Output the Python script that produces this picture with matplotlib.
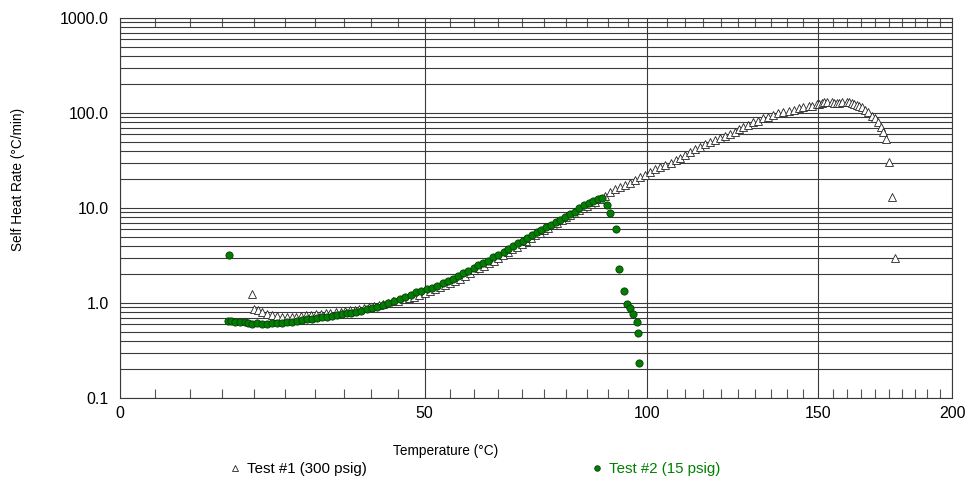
import numpy as np
import matplotlib
matplotlib.use('Agg')
import matplotlib.pyplot as plt
from matplotlib.ticker import FixedLocator, MultipleLocator, LogLocator, FuncFormatter, NullFormatter
from matplotlib.lines import Line2D

plt.rcParams['font.family'] = ['Liberation Sans', 'DejaVu Sans']

# ---------------- data ----------------
x_ticks = [0, 50, 100, 150, 200]
y_ticks = [0.1, 1.0, 10.0, 100.0, 1000.0]

test1_label = "Test #1 (300 psig)"
test2_label = "Test #2 (15 psig)"

test1_temp = [19.6, 19.9, 20.6, 21.3, 22.1, 22.9, 23.7, 24.5, 25.3, 26.1, 26.9, 27.7, 28.5, 29.4,
              30.2, 31.0, 31.9, 32.7, 33.6, 34.5, 35.3, 36.1, 37.0, 37.8, 38.7, 39.6, 40.5, 41.3,
              42.2, 43.1, 44.0, 45.0, 46.0, 47.0, 48.0, 49.0, 50.0, 51.0, 52.0, 53.0, 54.0, 55.0,
              56.0, 57.0, 58.0, 59.0, 60.0, 61.0, 62.0, 63.0, 64.0, 65.0, 66.0, 67.0, 68.0, 69.0,
              70.0, 71.0, 72.0, 73.0, 74.0, 75.0, 76.0, 77.0, 78.0, 79.0, 80.0, 81.0, 82.0, 83.0,
              84.0, 85.0, 86.0, 87.0, 88.2, 89.3, 90.6, 91.8, 93.1, 94.3, 95.5, 96.8, 98.1, 99.4,
              100.7, 102.0, 103.4, 104.7, 106.1, 107.4, 108.7, 110.0, 111.4, 112.8, 114.2, 115.5,
              116.9, 118.3, 119.8, 121.2, 122.7, 124.1, 125.4, 126.6, 128.0, 129.6, 131.1, 132.6,
              134.1, 135.7, 137.3, 138.8, 140.5, 142.1, 143.7, 145.3, 147.0, 148.1, 149.7, 150.5,
              151.3, 152.2, 153.0, 154.7, 155.5, 156.4, 157.3, 158.1, 159.9, 160.8, 161.6, 162.5,
              163.4, 164.3, 165.2, 166.4, 167.6, 168.8, 170.0, 171.2, 172.2, 173.0, 174.0, 175.1,
              176.3, 177.3]
test1_rate = [1.24, 0.86, 0.84, 0.80, 0.77, 0.75, 0.73, 0.72, 0.72, 0.72, 0.72, 0.73, 0.74, 0.75,
              0.76, 0.77, 0.78, 0.79, 0.80, 0.81, 0.82, 0.84, 0.85, 0.86, 0.88, 0.91, 0.93, 0.955,
              0.98, 1.01, 1.04, 1.06, 1.09, 1.13, 1.17, 1.22, 1.28, 1.34, 1.40, 1.46, 1.53, 1.61,
              1.71, 1.81, 1.93, 2.06, 2.20, 2.34, 2.48, 2.63, 2.80, 3.00, 3.22, 3.44, 3.66, 3.93,
              4.20, 4.48, 4.80, 5.14, 5.48, 5.84, 6.22, 6.60, 7.00, 7.40, 7.95, 8.45, 8.95, 9.50,
              10.0, 10.6, 11.1, 11.5, 12.3, 13.4, 14.8, 15.7, 16.5, 17.5, 18.5, 19.7, 21.1, 22.3,
              24.1, 25.6, 26.8, 28.4, 30.0, 32.0, 33.8, 36.1, 38.6, 41.5, 44.2, 46.9,
              49.2, 52.0, 54.2, 57.7, 60.1, 63.6, 67.5, 71.0, 75.5, 79.8, 83.0, 87.9,
              91.4, 95.3, 99.3, 101.5, 104.0, 107.6, 112.0, 116.0, 118.5, 118.0, 123.6, 125.0,
              128.0, 130.0, 131.0, 129.6, 128.0, 127.0, 128.0, 130.0, 132.0, 130.0, 127.0, 124.0,
              120.0, 118.0, 116.5, 107.7, 101.7, 93.7, 88.0, 79.8, 71.8, 63.6, 52.8, 30.7,
              13.2, 2.96]

test2_temp = [16.0, 15.8, 16.4, 17.0, 17.7, 18.5, 19.0, 19.7, 20.4, 21.2, 22.0, 22.9, 23.7, 24.5,
              25.3, 26.1, 27.0, 27.8, 28.6, 29.5, 30.4, 31.2, 32.1, 32.9, 33.8, 34.7, 35.6, 36.4,
              37.3, 38.2, 39.2, 40.1, 41.0, 42.2, 43.1, 44.2, 45.3, 46.3, 47.3, 48.4, 49.3, 50.4,
              51.4, 52.5, 53.6, 54.6, 55.6, 56.6, 57.6, 58.6, 59.8, 60.8, 61.8, 62.9, 63.9, 65.0,
              66.1, 67.1, 68.2, 69.2, 70.3, 71.3, 72.3, 73.4, 74.4, 75.5, 76.5, 77.7, 78.7, 79.9,
              81.0, 82.1, 83.1, 84.3, 85.4, 86.5, 87.6, 88.6, 89.7, 90.6, 91.9, 92.8, 93.9, 94.8,
              95.5, 96.3, 97.4, 97.6, 97.9]
test2_rate = [3.2, 0.65, 0.64, 0.635, 0.63, 0.625, 0.61, 0.605, 0.61, 0.605, 0.60, 0.61, 0.62, 0.62,
              0.625, 0.625, 0.64, 0.67, 0.68, 0.685, 0.70, 0.705, 0.72, 0.73, 0.75, 0.765, 0.78, 0.79,
              0.81, 0.83, 0.86, 0.885, 0.915, 0.96, 1.00, 1.05, 1.10, 1.15, 1.21, 1.29, 1.35, 1.40,
              1.45, 1.52, 1.61, 1.72, 1.80, 1.93, 2.05, 2.19, 2.35, 2.50, 2.62, 2.79, 3.02, 3.23,
              3.45, 3.68, 3.98, 4.25, 4.53, 4.87, 5.20, 5.55, 5.91, 6.31, 6.67, 7.07, 7.48, 8.11,
              8.65, 9.15, 9.93, 10.8, 11.4, 11.9, 12.4, 12.7, 10.8, 8.8, 6.0, 2.26, 1.35, 0.98,
              0.88, 0.77, 0.635, 0.487, 0.232]

# ---------------- figure ----------------
fig = plt.figure(figsize=(9.69, 4.82), dpi=100)
ax = fig.add_axes([120 / 969, 1 - 398 / 482, 832 / 969, 380 / 482])


def fwd(t):
    with np.errstate(divide='ignore', invalid='ignore'):
        return -1000.0 / (np.asarray(t, dtype=float) + 273.15)


def inv(u):
    with np.errstate(divide='ignore', invalid='ignore'):
        return -1000.0 / np.asarray(u, dtype=float) - 273.15


ax.set_xscale('function', functions=(fwd, inv))
ax.set_yscale('log')
ax.set_xlim(0, 200)
ax.set_ylim(0.1, 1000)

grid_col = '#3a3a3a'
ax.yaxis.set_major_locator(FixedLocator(y_ticks))
ax.yaxis.set_minor_locator(LogLocator(base=10, subs=range(2, 10)))
ax.yaxis.set_major_formatter(FuncFormatter(lambda v, p: f'{v:.1f}'))
ax.yaxis.set_minor_formatter(NullFormatter())
ax.xaxis.set_major_locator(FixedLocator(x_ticks))
ax.xaxis.set_minor_locator(MultipleLocator(5))
ax.xaxis.set_major_formatter(FuncFormatter(lambda v, p: f'{v:.0f}'))

ax.grid(True, which='both', axis='y', color=grid_col, lw=0.8)
ax.grid(True, which='major', axis='x', color=grid_col, lw=0.8)
ax.set_axisbelow(True)

ax.tick_params(axis='y', which='both', length=0, pad=8, labelsize=11.5)
ax.tick_params(axis='x', which='major', length=0, pad=6, labelsize=11.5)
ax.tick_params(axis='x', which='minor', direction='in', length=6.5, width=0.8,
               color='#555555', top=True, bottom=True)
for s in ax.spines.values():
    s.set_color(grid_col)
    s.set_linewidth(0.8)

ax.plot(test1_temp, test1_rate, ls='none', marker='^', ms=5.8, mfc='white',
        mec='#222222', mew=0.6, zorder=3)
ax.plot(test2_temp, test2_rate, ls='none', marker='o', ms=5.2, mfc='#008000',
        mec='#0b3b0b', mew=0.6, zorder=4)

fig.text(446 / 969, 1 - 451 / 482, 'Temperature (°C)', ha='center', va='center', fontsize=9.8)
fig.text(18 / 969, 1 - 179 / 482, 'Self Heat Rate (°C/min)', ha='center', va='center',
         rotation=90, fontsize=9.8)

h1 = Line2D([], [], ls='none', marker='^', ms=4, mfc='white', mec='#222222', mew=0.6)
h2 = Line2D([], [], ls='none', marker='o', ms=4, mfc='#008000', mec='#0b3b0b', mew=0.6)
leg1 = fig.legend(handles=[h1], labels=[test1_label], loc='center left',
                  bbox_to_anchor=(229 / 969, 1 - 469 / 482), frameon=False, fontsize=10.8,
                  handlelength=0.8, handletextpad=0.4, borderpad=0, borderaxespad=0)
leg2 = fig.legend(handles=[h2], labels=[test2_label], loc='center left',
                  bbox_to_anchor=(591 / 969, 1 - 469 / 482), frameon=False, fontsize=10.8,
                  handlelength=0.8, handletextpad=0.4, borderpad=0, borderaxespad=0)
for t in leg2.get_texts():
    t.set_color('#008000')

fig.savefig('out.png', dpi=100)
